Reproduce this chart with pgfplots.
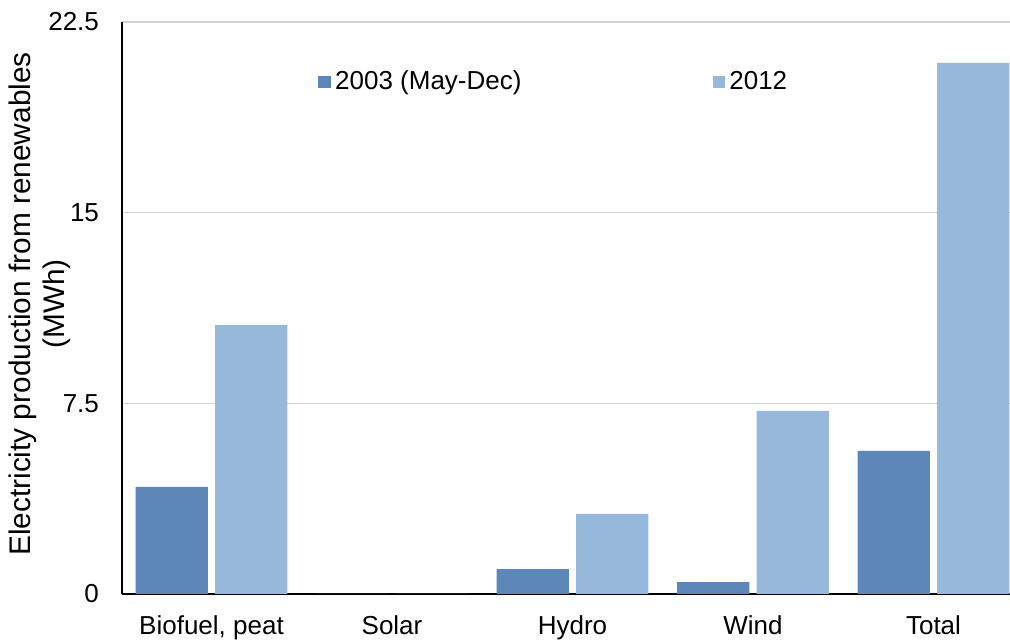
\documentclass[border=0pt]{standalone}
\usepackage{fontspec}
\setmainfont{Liberation Sans}
\usepackage{pgfplots}
\pgfplotsset{compat=1.18}

\definecolor{bardark}{RGB}{94,135,185}
\definecolor{barlight}{RGB}{150,185,219}
\definecolor{gridgray}{RGB}{210,210,210}

\begin{document}
\begin{tikzpicture}[font=\fontsize{13}{15}\selectfont]
\begin{axis}[
  at={(0,0)}, anchor=south west,
  scale only axis, width=444pt, height=286pt,
  xmin=-0.496, xmax=4.424, ymin=0, ymax=22.5,
  axis lines*=left,
  axis line style={-, black, line width=1pt},
  ymajorgrids, grid style={draw=gridgray, line width=0.75pt},
  ytick={0,7.5,15,22.5},
  xtick={0,1,2,3,4},
  xticklabels={{Biofuel, peat},Solar,Hydro,Wind,Total},
  major tick length=0pt,
  /pgf/number format/assume math mode=true,
  yticklabel style={xshift=-8pt},
  xticklabel style={text height=9.5pt, text depth=2.5pt, yshift=-7pt},
  ylabel={Electricity production from renewables\\(MWh)},
  ylabel style={font=\fontsize{14.9}{17}\selectfont, align=center,
    at={(axis description cs:-0.093,0.507)}, anchor=center},
  ybar, bar width=0.4,
  legend columns=2,
  legend cell align=left,
  legend image code/.code={\fill[#1] (0pt,-3.2pt) rectangle (6.4pt,3.2pt);},
  legend style={at={(axis description cs:0.2207,0.895)}, anchor=west,
    draw=none, fill=none, inner sep=0pt,
    /tikz/every even column/.append style={column sep=93.5pt}},
]
\addplot[fill=bardark, draw=none, bar shift=-0.22]
  coordinates {(0,4.21) (1,0) (2,0.98) (3,0.47) (4,5.63)};
\addlegendentry{2003 (May-Dec)}
\addplot[fill=barlight, draw=none, bar shift=0.22]
  coordinates {(0,10.58) (1,0) (2,3.15) (3,7.2) (4,20.89)};
\addlegendentry{2012}
\end{axis}
\pgfresetboundingbox
\path[use as bounding box] (-61pt,-23.5pt) rectangle (444pt,297pt);
\end{tikzpicture}
\end{document}
